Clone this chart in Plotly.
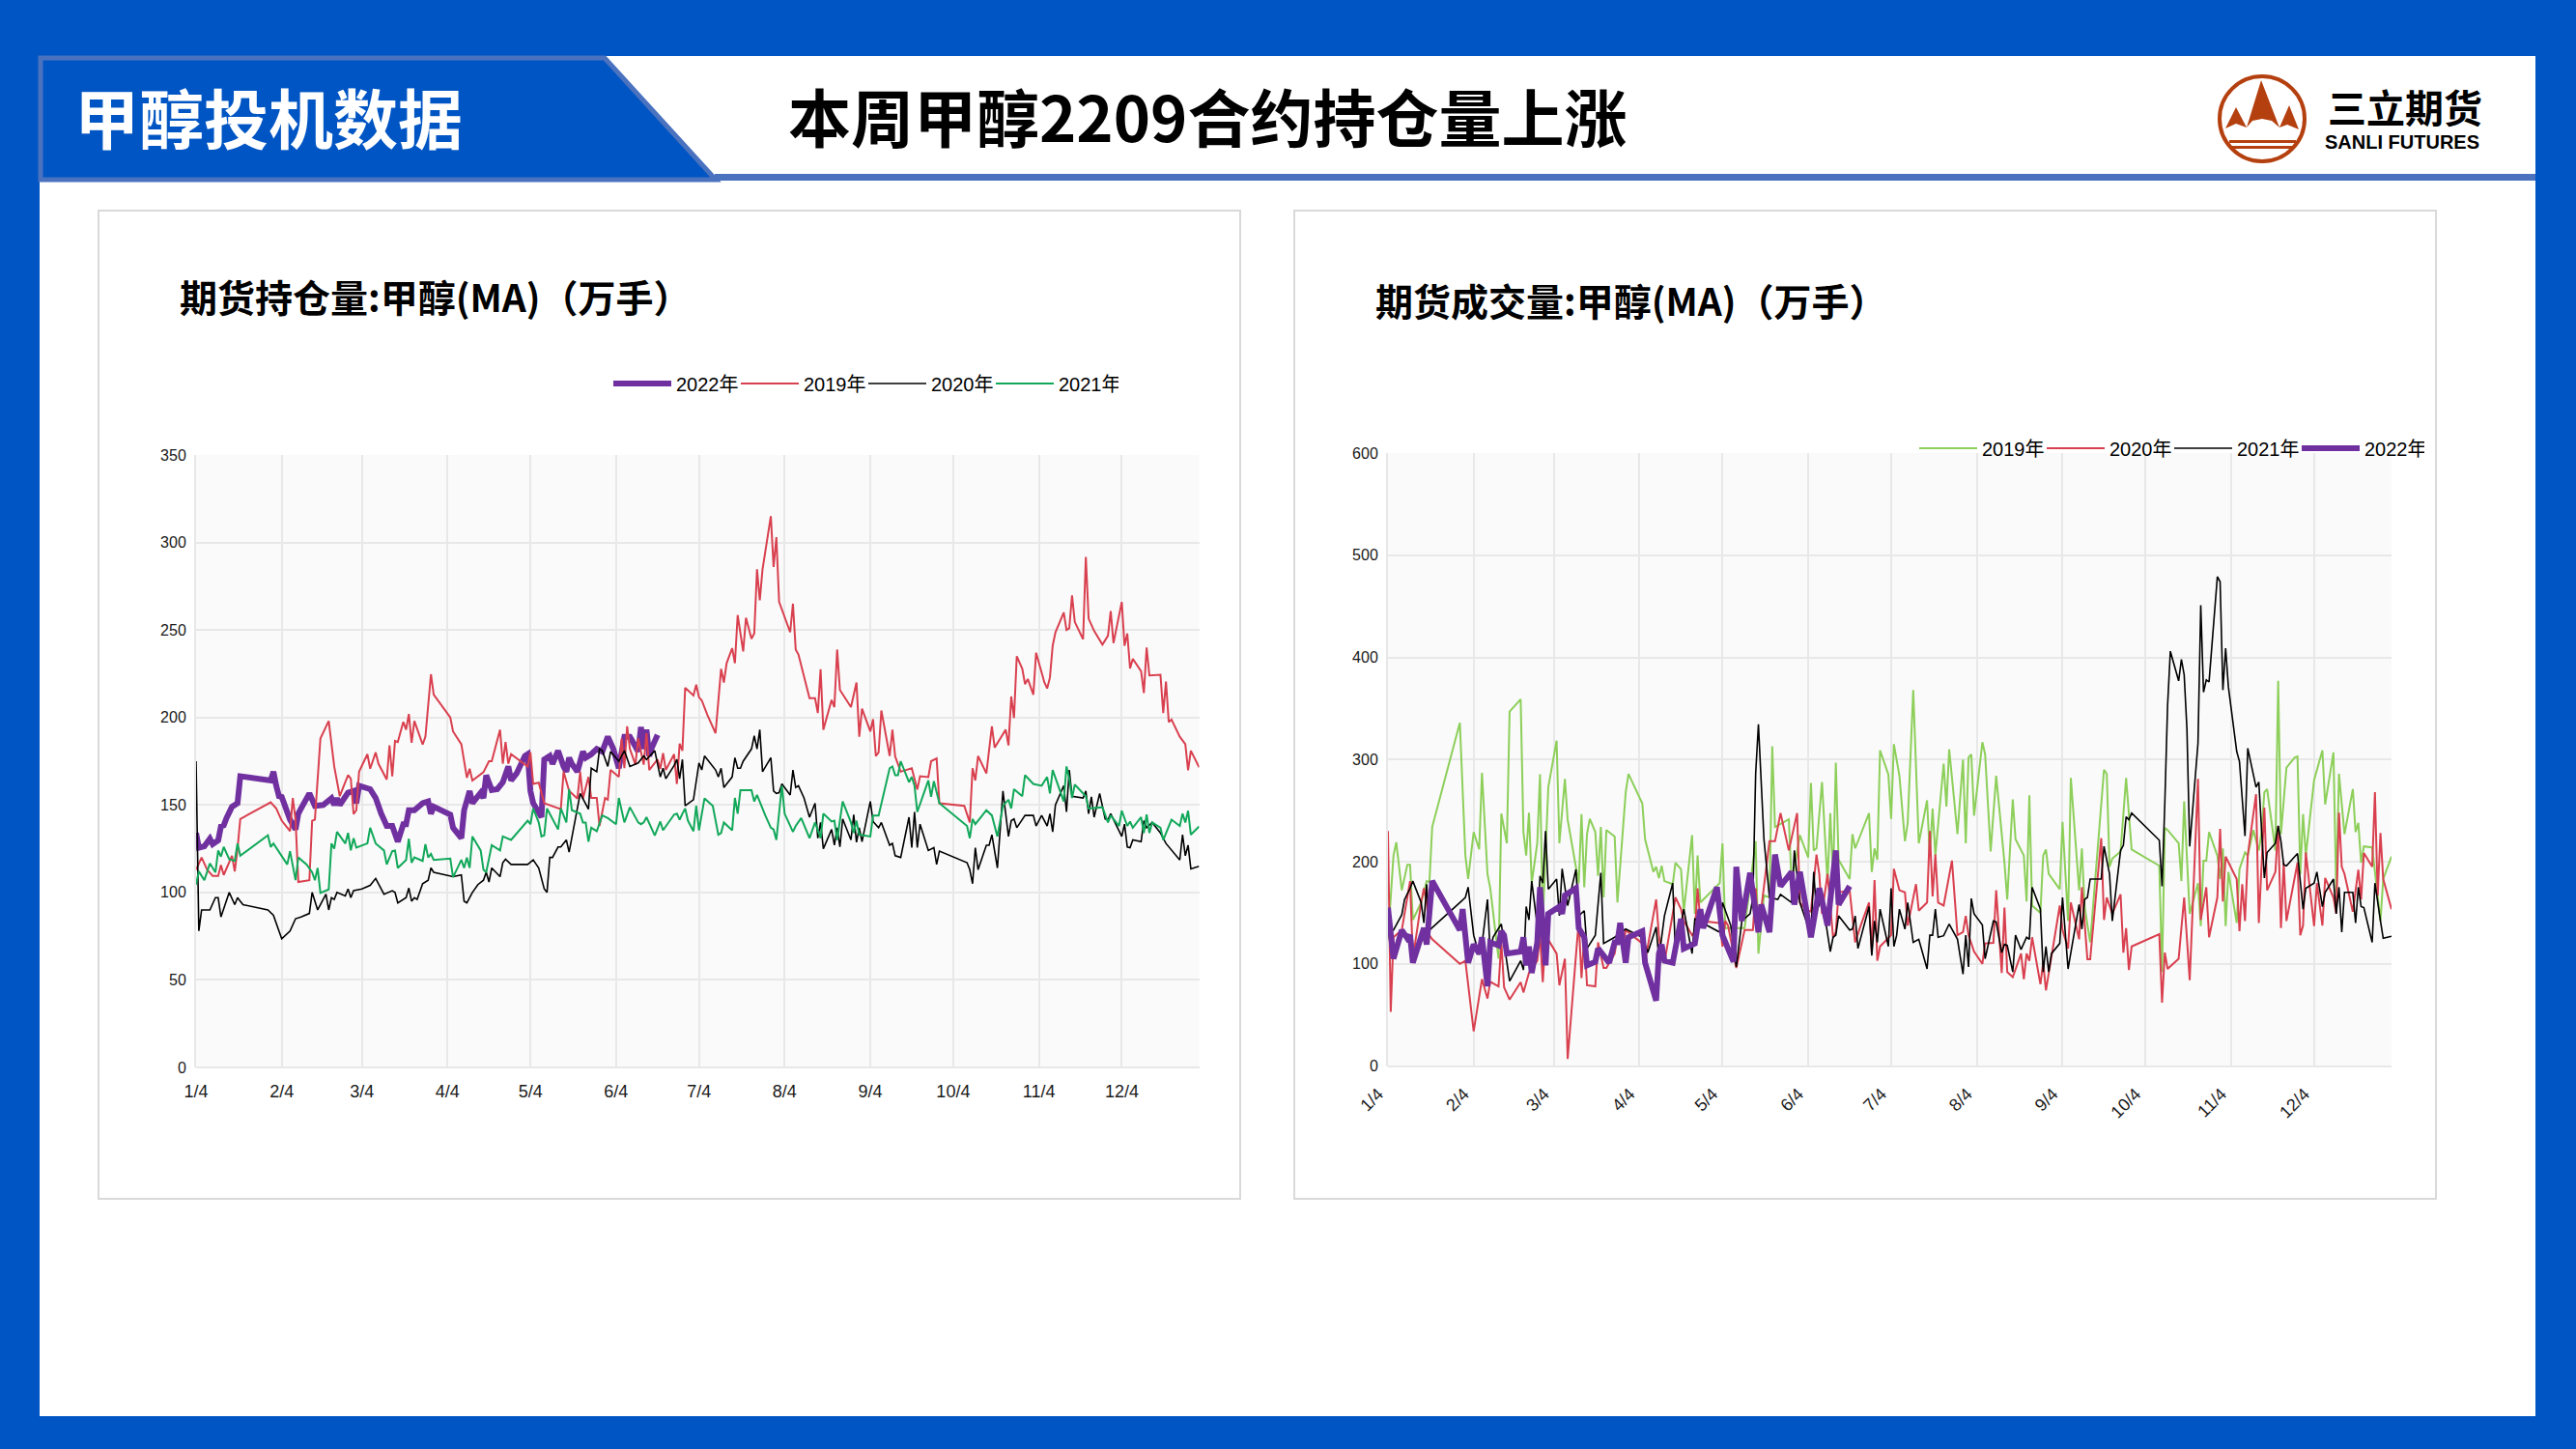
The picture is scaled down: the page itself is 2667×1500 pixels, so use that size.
import pandas as pd
import plotly.graph_objects as go

W, H = 2667, 1500
BASE = pd.Timestamp("2020-01-04")  # leap calendar used by the shared seasonal axis

month_ticks = ["2020-01-04","2020-02-04","2020-03-04","2020-04-04","2020-05-04","2020-06-04",
               "2020-07-04","2020-08-04","2020-09-04","2020-10-04","2020-11-04","2020-12-04"]
month_labels = ["1/4","2/4","3/4","4/4","5/4","6/4","7/4","8/4","9/4","10/4","11/4","12/4"]

# (days since 1/4, value) -- open interest, 10k lots
oi_2022 = [(0,134),(1,125.6),(3,126.4),(5,130.7),(6,127.6),(8,129.8),(9,137.7),(10,138.3),(11,142.5),(13,149),(15,151),(16,166.4),(27,164),(28,169),(29,161),(30,155),(31,154.6),(32,149.5),(34,141.6),(36,136),(37,145),(38,148),(41,156.6),(43,149.5),(46,150),(49,153.8),(50,150),(51,153.8),(52,150),(55,157),(57,158),(58,151),(59,161),(63,159),(65,154),(67,145),(69,138),(71,138),(73,129),(75,139),(76,139),(77,147),(79,147),(82,151),(84,152),(85,145),(86,149),(92,144.5),(93,137),(96,131),(97,147),(99,158),(100,151),(103,157),(104,154),(105,167),(107,158.5),(109,159),(111,163),(113,172),(114,164),(116,168),(119,178),(120,179),(121,158),(122,151),(125,143),(126,176),(128,178),(129,173.5),(131,181),(133,172),(134,169),(135,177),(136,173.5),(138,169),(140,180.5),(141,177),(143,179),(145,182),(147,180.5),(149,189),(151,182),(153,171),(154,179),(155,189),(157,189),(159,183),(160,180.5),(161,194.6),(162,182),(163,193),(164,178),(165,183),(167,190)]

oi_2019 = [(0,113),(2,120),(4,113),(6,109.5),(8,109.5),(9,115.6),(10,110),(13,121),(14,112),(15,125),(16,142),(27,151.5),(29,148),(31,141),(34,135),(35,154),(36,141.6),(37,106),(41,107),(42,141),(43,141.6),(45,188),(48,198),(50,172),(52,155),(55,167),(56,165),(57,144.8),(58,147),(59,169),(62,179),(63,170.7),(65,180),(66,173.6),(69,164.5),(70,184),(71,166.4),(72,186.6),(73,186),(75,197.5),(76,193),(77,202),(78,185.5),(79,198),(82,184.5),(83,189),(85,224.7),(86,213),(92,200),(93,192),(96,184.7),(98,165.5),(99,170.7),(100,164),(104,168.7),(106,175),(107,175),(110,193),(111,173.6),(112,186),(113,173.6),(114,179),(120,172),(121,180),(122,162),(124,162.7),(126,151),(128,150),(132,147.6),(133,169),(135,158),(138,153.6),(139,169),(140,153.6),(142,166),(143,154),(145,154),(146,138),(148,154),(149,153),(150,170),(153,166),(154,188),(155,171),(156,195),(157,182),(159,173),(160,188),(162,173),(163,191),(164,170),(167,176),(168,170.7),(169,179.6),(170,170),(173,179),(174,162),(175,185),(176,181),(177,217),(180,212.6),(181,218.8),(182,211.5),(183,209.8),(185,201.6),(188,191),(190,227.8),(191,220),(192,231),(194,239.6),(195,231),(196,258.5),(198,237.7),(199,257),(201,245),(202,248),(203,284.7),(204,267),(205,284.7),(208,315),(209,286),(210,303),(211,266),(215,248.7),(216,265),(217,238.8),(218,236),(222,211),(224,211),(225,202.5),(226,227.5),(227,193),(230,210),(231,205.9),(232,238.8),(233,215.7),(237,205.9),(239,220),(240,189),(241,205),(244,192),(245,199),(246,178),(247,180),(248,204),(251,178),(252,193),(253,177.7),(255,169),(259,171),(261,158.8),(262,166.4),(265,165.9),(266,175),(268,176.6),(269,151),(278,149.5),(280,140),(281,171),(282,164),(283,178),(286,168),(288,195),(289,182.8),(293,193),(294,184),(295,212),(296,199.7),(297,235),(299,227.8),(300,219),(301,222),(303,213),(304,237),(307,220),(308,216.6),(309,222.8),(310,241),(311,248.7),(314,260),(315,250),(316,251),(317,269.8),(318,254.6),(321,244.7),(322,291.7),(323,256.5),(325,249.5),(328,241.6),(330,246.7),(331,260.8),(332,242.5),(335,266),(336,241),(337,248),(338,228),(339,233.5),(342,226.4),(343,214),(344,240),(345,224),(349,224.4),(350,202.5),(351,220.5),(352,197.4),(353,198.8),(356,189),(358,184.7),(359,169.8),(360,181),(363,171.5)]

oi_2020 = [(0,175),(1,78),(2,90),(5,90),(7,97),(8,97),(9,86),(12,100),(14,93),(15,97),(16,95),(17,93),(26,90),(28,87),(30,78),(31,73.5),(34,78),(36,85),(38,86),(41,88),(42,100),(43,95),(44,90),(47,99),(48,90),(49,97),(50,96),(51,100),(54,98),(55,102),(56,97),(57,101),(60,102),(63,104),(65,108),(68,99),(71,101),(72,100),(73,94),(76,97),(77,102.5),(78,95),(79,97),(80,96),(82,105),(84,107),(85,114),(86,111.5),(93,109),(96,110),(97,95),(98,94),(100,100),(102,104.5),(104,107),(105,111.5),(106,106),(107,114),(110,109),(111,117),(112,119),(114,116),(120,116),(122,118.6),(124,114),(126,102),(127,100),(128,120),(129,120),(131,126),(132,126),(134,130),(135,123),(139,156.6),(141,151),(142,147.6),(143,171),(145,169),(146,182),(147,181),(149,172),(150,180.5),(153,175),(155,181),(157,172),(160,174),(162,178),(163,176),(166,181),(168,166),(169,171),(170,165),(173,172.6),(174,176),(175,165),(176,176),(177,149.5),(180,153),(182,174),(183,170),(184,178),(188,170),(189,166),(190,171),(191,160),(194,166),(195,177),(196,171),(197,171),(198,175),(201,182),(202,189.5),(203,182),(204,193),(205,169),(208,177),(209,158),(210,156.6),(211,157),(212,162),(215,155.7),(216,170),(217,160),(218,161),(220,154),(222,143),(224,151),(225,131),(226,140),(227,125),(230,136),(231,127),(232,137),(233,126),(234,142),(237,130),(238,144.5),(239,128.7),(240,137),(241,129),(244,152),(245,140.5),(247,137),(248,140),(251,127),(252,128),(253,121),(255,120),(258,143),(259,125.6),(260,146),(261,125.6),(262,139),(265,124),(267,125.6),(268,116),(269,123.6),(279,117),(280,113),(281,105),(282,125.6),(283,113),(286,127),(287,127),(288,133),(290,114),(292,158),(294,132),(295,141),(296,142),(297,137),(300,144),(303,144),(304,138),(306,144),(308,138),(309,145),(310,134.6),(311,150),(314,161),(315,146),(316,170),(317,155),(321,154),(322,158),(323,145),(324,154.6),(325,143),(327,156.6),(329,142),(330,141.6),(331,145),(335,132),(336,139),(337,126),(338,125.6),(339,130),(342,129),(343,141),(344,137),(346,140),(349,134),(351,128),(356,118.6),(357,133),(358,121),(359,127),(360,113.5),(363,115)]

oi_2021 = [(0,104.5),(1,112),(3,107),(5,116.6),(7,111.5),(8,124),(9,120.5),(10,126),(12,119),(14,118),(15,128),(16,121),(26,132.6),(27,126),(28,128),(30,123),(33,116),(34,123.6),(36,107),(37,120),(40,116),(42,111.5),(43,107),(44,114),(45,99.7),(48,101.7),(49,128),(50,125),(51,134.6),(54,128),(55,134),(56,124),(57,131),(58,125.6),(62,128),(63,137),(65,128),(68,124),(69,116),(71,123.6),(72,124),(73,114),(76,118.6),(77,130.7),(78,117),(79,120),(82,118),(83,127.6),(84,120),(85,122),(86,118.6),(92,119.4),(93,108.7),(96,118.6),(97,114),(98,120),(99,114),(100,132),(103,124),(104,113),(105,111.5),(107,127),(110,124),(111,132),(114,130),(120,141),(121,139),(122,148),(124,140),(125,132),(126,132.6),(127,148),(131,136),(132,148),(134,140),(135,159),(136,147),(139,145),(140,140),(141,140),(142,129),(143,137),(145,135),(147,144),(149,142.5),(152,139),(153,154),(155,140),(157,148.7),(160,140),(161,139),(162,140),(163,143),(166,132.6),(168,140.5),(169,135.5),(173,144.5),(174,145),(175,141.6),(176,145),(177,148),(178,141),(180,135),(181,149.5),(182,135.5),(184,153.8),(187,149.5),(189,133),(190,134),(191,140),(194,135.5),(195,154),(196,145),(197,158.5),(201,158.5),(202,152),(203,155.7),(206,144),(208,137),(209,136),(210,130),(212,161),(213,145),(216,134.6),(217,138),(219,142.5),(222,131),(224,140),(226,131),(227,145),(230,140.5),(231,141),(232,130),(234,152),(237,140),(238,134),(239,141),(240,133),(244,132),(245,144),(247,144),(251,171),(252,172),(253,167),(254,167),(255,175),(258,163),(259,166),(260,161),(261,146),(265,164),(266,154.6),(267,163.6),(269,151),(279,138),(280,131),(281,142),(282,139),(286,147),(288,144),(290,132),(292,149.5),(294,153),(295,148),(296,159),(299,155),(300,167),(303,162),(306,161),(308,166),(309,156.6),(310,170),(314,152),(315,172),(316,165),(317,154),(318,161.6),(322,155),(323,148),(328,148.7),(330,140),(331,144),(334,138),(335,146.7),(337,138),(338,140.5),(339,137),(342,143),(343,134),(344,144.5),(345,134),(346,140),(349,137),(350,130),(353,141.6),(356,138),(357,145),(358,140),(359,146.7),(360,133),(363,137.7)]

# (days since 1/4, value) -- traded volume, 10k lots
vol_2019 = [(0,124),(2,206),(3,219),(5,172),(7,197),(8,197),(9,143),(12,160),(14,181),(15,180),(16,234),(26,336),(28,206),(29,183),(31,229),(33,212),(34,287),(36,188),(37,174),(40,105),(41,247),(43,218),(44,347),(48,359),(49,229),(50,206),(51,248),(52,179),(54,218),(55,285.5),(56,142),(58,273),(61,318.5),(62,218),(64,281),(65,241),(69,179),(70,246.5),(71,175),(72,227),(73,242),(75,229),(76,186),(77,234),(78,165),(79,231),(82,224.6),(83,160),(86,268),(87,286),(92,257),(93,222),(96,190),(97,195),(98,184),(99,196),(100,181),(103,178),(104,199),(106,192.5),(107,151),(110,226),(111,149),(112,206),(113,160),(120,179),(121,218),(122,135),(129,135),(133,220),(134,110),(136,167),(138,165),(139,313),(140,234),(145,241.5),(146,179),(149,226),(152,204),(153,277),(154,211),(155,213),(157,278),(159,179),(160,247.5),(161,183),(162,297),(163,202),(167,183),(168,227),(169,213),(174,247.5),(175,190),(176,213),(177,202),(178,309),(181,285.5),(182,242),(183,315),(185,284),(187,220),(188,238),(190,368),(192,218),(195,260),(196,206),(197,252),(198,206),(201,296),(202,254),(203,310),(206,227),(208,300),(209,218),(210,302),(211,305),(212,245),(215,317),(216,305),(218,210),(220,284),(223,199),(224,163),(226,261),(227,222),(230,206),(231,161),(232,265),(233,157),(236,150),(237,206),(238,212),(239,188),(243,173),(244,239),(246,142),(247,282),(250,172),(251,213),(252,156),(254,121),(259,290),(260,286),(261,195),(262,203),(265,210),(267,282),(269,212),(279,196),(280,92),(281,233),(282,231),(286,218),(287,181),(288,259),(290,149),(293,179),(294,137),(295,201),(296,201),(297,229),(300,206),(301,183),(302,213),(303,137),(304,190),(307,140),(308,192.5),(310,209),(311,206),(313,231),(315,211),(316,229),(317,268),(318,271),(321,211),(322,377),(323,227),(325,292),(328,302),(329,303),(330,188),(331,246.5),(332,206),(335,280),(338,309),(339,256),(342,307),(343,170),(344,286),(346,227),(349,271),(350,229),(351,238),(352,199),(353,215),(356,214),(357,188),(359,142),(360,183),(363,205)]

vol_2020 = [(0,230),(1,53),(2,126),(5,133),(8,181),(9,105),(12,160),(13,174),(14,160),(15,128),(16,124),(26,100),(28,103),(31,34),(34,85),(36,66),(37,82.5),(40,78),(41,121),(42,77),(44,65),(48,82),(49,72),(51,91),(54,103),(55,128),(56,82),(57,128),(61,110),(62,79),(64,105),(65,7),(69,142),(70,86),(71,128),(72,79),(75,78),(76,121),(78,96),(79,96),(82,110),(83,128),(84,133),(85,117),(86,133),(92,120),(93,102),(97,163),(98,128),(99,105),(100,101),(103,149),(104,165),(106,153.5),(107,142),(110,128),(111,131),(112,174),(113,142),(120,140),(121,117),(122,142),(123,137.5),(126,96),(129,133),(132,133),(133,174),(134,131),(138,220),(140,220),(142,247.5),(145,211),(148,247.5),(149,160),(151,153.5),(153,151),(155,207),(156,188),(157,149),(159,188),(161,126),(162,131),(163,170),(167,172),(169,121),(171,137.5),(174,160),(175,112),(176,182),(177,103),(178,117),(182,128),(183,193),(185,172),(187,170),(188,137.5),(191,178),(192,152),(195,160),(196,230),(197,166),(198,207),(199,160),(201,157),(204,201),(206,128),(208,131),(209,147),(210,128),(212,112),(215,100),(216,120),(219,120.5),(220,172),(222,91),(223,155),(224,92),(226,87),(229,110),(230,85),(231,110),(232,103),(233,126),(236,80),(237,101),(238,74),(243,157),(244,133),(246,115),(247,160),(250,124),(251,175),(253,104.5),(254,104.5),(258,223),(259,143),(260,165),(262,149),(265,168),(266,111),(267,135),(268,94),(269,117),(279,129),(280,62),(281,111),(282,95),(286,105),(288,165),(290,84),(293,281),(294,143),(296,175),(297,126),(300,165),(301,232),(302,161),(303,205),(307,183),(308,132),(309,178),(310,142),(311,206),(314,266),(315,140),(317,253),(318,172),(321,190),(322,235),(323,135),(324,199),(325,142),(329,199),(330,128),(331,137.5),(332,209),(335,137),(336,179),(338,137.5),(339,184),(342,165),(343,149),(344,248),(345,195),(346,188),(349,151),(351,192),(352,163),(353,208.5),(356,195),(357,268),(358,167),(359,228),(360,183),(363,153.5)]

vol_2021 = [(0,136.5),(2,133),(5,148),(6,163),(8,174),(9,181),(12,160),(13,140),(14,178),(15,133),(26,160),(28,165),(29,175),(31,128),(33,109),(34,119),(36,163),(37,110),(38,126),(41,139),(44,83),(48,103),(49,94),(50,156),(51,143),(52,181),(54,137.5),(55,186),(56,179),(57,230),(58,173),(61,183),(62,147),(63,193),(65,157),(68,192.5),(69,147),(71,152),(72,115),(75,128),(77,189),(78,120),(82,126),(83,128),(86,134),(92,126),(94,111),(97,136),(98,105),(100,147),(103,179),(104,110),(107,153.5),(110,110),(111,144),(120,131),(121,160),(124,137.5),(126,97),(128,142),(131,149),(132,165),(133,286),(134,334.5),(136,222),(138,165),(141,163),(142,168),(146,160),(147,211),(149,160),(153,128),(154,190),(155,151),(157,165),(160,112),(161,126),(162,128),(163,147),(167,133),(168,134),(169,147),(170,115),(174,156),(175,108),(176,142),(177,121),(178,153.5),(181,117),(182,174),(183,117),(184,128),(185,153.5),(187,134),(188,160),(190,121),(192,124),(195,95),(196,128),(197,128),(198,153.5),(199,126),(201,127.5),(203,139),(206,124),(208,90),(209,128),(210,97),(211,164),(212,149),(215,138),(216,105),(218,132),(219,142),(220,141),(222,111),(223,119),(224,118),(226,92),(227,128),(229,114),(231,126),(232,124),(233,175),(236,153.5),(237,92),(238,117),(239,92),(240,110),(243,120),(244,165),(246,95),(250,158),(251,134),(252,163),(253,165),(254,183),(258,183),(259,215),(261,188),(262,142),(265,211),(266,216),(267,244),(268,241),(269,247.5),(279,221),(280,176),(281,257),(282,353),(283,406),(286,377),(287,398),(288,383),(289,330),(290,215),(293,316),(294,451),(295,366),(296,378),(297,376),(300,479),(301,474),(302,368),(303,409),(304,371),(307,308),(308,298),(310,225),(311,311),(314,273),(315,278),(317,184),(318,209),(321,218),(322,235),(323,220),(324,197),(325,196),(329,208),(331,153.5),(332,174),(335,179),(336,190),(338,156),(339,170),(342,183),(343,149),(344,175),(345,131),(346,170),(349,170),(350,140),(351,175),(352,156),(353,155),(356,121),(357,179),(359,142),(360,125),(363,127)]

vol_2022 = [(0,155),(2,105),(5,133),(7,125),(8,128),(9,101),(13,135),(14,119),(16,181),(26,133),(27,153.5),(28,128),(29,101),(31,119),(33,110),(34,126),(36,78),(37,121),(40,118),(41,132),(42,128),(43,110),(48,112),(49,126),(50,98.5),(51,117),(52,91),(54,121),(55,175),(57,98.5),(58,149),(62,156),(63,149),(64,167),(68,174),(69,135),(71,126),(72,98.5),(75,102),(76,115),(80,101),(82,121),(83,121),(84,140),(86,101),(87,126),(92,132),(93,101),(97,64),(98,110),(99,119),(100,103),(103,101),(106,144),(107,115),(111,120),(113,153.5),(114,135),(119,175),(121,128),(125,102),(126,195),(128,142),(131,189),(134,131),(135,158),(138,131),(140,207),(142,176),(146,190),(147,158),(149,190),(153,126),(156,174),(159,137.5),(162,211),(163,158),(167,176)]


def series(pairs):
    return ([BASE + pd.Timedelta(days=d) for d, _ in pairs], [v for _, v in pairs])


def X(px):
    return px / W


def Y(py):
    return 1 - py / H


def rect(x0, y0, x1, y1, fill=None, line=None, lw=0, layer="below"):
    return dict(type="rect", xref="paper", yref="paper", x0=X(x0), x1=X(x1), y0=Y(y0), y1=Y(y1),
                fillcolor=fill or "rgba(0,0,0,0)", line=dict(color=line or "rgba(0,0,0,0)", width=lw), layer=layer)


def poly(points, fill, line=None, lw=0):
    d = "M " + " L ".join(f"{X(a):.5f},{Y(b):.5f}" for a, b in points) + " Z"
    return dict(type="path", xref="paper", yref="paper", path=d, fillcolor=fill,
                line=dict(color=line or "rgba(0,0,0,0)", width=lw), layer="above")


BLUE = "#0055C4"
BAND = "#4A72BF"
BROWN = "#B5400F"
C_PURPLE = "#7030A0"
C_RED = "#D9404F"
C_GREEN = "#12A85A"
C_LIME = "#8DCF5A"
C_BLACK = "#000000"

fig = go.Figure()

left_traces = [("2022年", oi_2022, C_PURPLE, 6), ("2019年", oi_2019, C_RED, 2),
               ("2020年", oi_2020, C_BLACK, 1.6), ("2021年", oi_2021, C_GREEN, 2)]
right_traces = [("2019年", vol_2019, C_LIME, 2), ("2020年", vol_2020, C_RED, 2),
                ("2021年", vol_2021, C_BLACK, 1.6), ("2022年", vol_2022, C_PURPLE, 6)]

for name, data, color, width in left_traces:
    x, y = series(data)
    fig.add_trace(go.Scatter(x=x, y=y, name=name, mode="lines", line=dict(color=color, width=width),
                             xaxis="x", yaxis="y", legend="legend"))
for name, data, color, width in right_traces:
    x, y = series(data)
    fig.add_trace(go.Scatter(x=x, y=y, name=name, mode="lines", line=dict(color=color, width=width),
                             xaxis="x2", yaxis="y2", legend="legend2"))

TICKFONT = dict(family="Liberation Sans, Noto Sans CJK SC", size=16, color="#1a1a1a")
XTICKFONT = dict(family="Liberation Sans, Noto Sans CJK SC", size=18, color="#1a1a1a")
GRID = "#E8E8E8"
RANGE = ["2020-01-04", "2021-01-01"]


def xaxis(domain, anchor, angle, standoff, shift):
    return dict(type="date", domain=domain, anchor=anchor, range=RANGE, tickmode="array",
                tickvals=month_ticks, ticktext=month_labels, tickangle=angle, tickfont=XTICKFONT,
                showgrid=True, gridcolor=GRID, gridwidth=2, showline=False, zeroline=False,
                ticks="", ticklabelstandoff=standoff, ticklabelshift=shift, fixedrange=True, automargin=False)


def yaxis(domain, anchor, top, step):
    return dict(domain=domain, anchor=anchor, range=[0, top], tickmode="linear", tick0=0, dtick=step,
                tickfont=TICKFONT, showgrid=True, gridcolor=GRID, gridwidth=2, zeroline=True,
                zerolinecolor=GRID, zerolinewidth=2, showline=True, linecolor=GRID, linewidth=2,
                ticks="", ticklabelstandoff=5, fixedrange=True, automargin=False)


shapes = [
    rect(0, 0, W, 58, fill=BLUE), rect(0, 1466, W, H, fill=BLUE),
    rect(0, 0, 41, H, fill=BLUE), rect(2625, 0, W, H, fill=BLUE),
    rect(740, 180, 2625, 187, fill=BAND),
    rect(102, 218, 1284, 1241, line="#D9D9D9", lw=2),
    rect(1340, 218, 2522, 1241, line="#D9D9D9", lw=2),
    poly([(42, 60), (626, 60), (741, 186), (42, 186)], BLUE, BAND, 5),
    # company mark
    dict(type="circle", xref="paper", yref="paper", x0=X(2298), x1=X(2386), y0=Y(167), y1=Y(79),
         fillcolor="rgba(0,0,0,0)", line=dict(color=BROWN, width=4), layer="above"),
    poly([(2304, 133), (2315, 111), (2326, 132), (2341, 83), (2360, 132), (2370, 109), (2380, 134),
          (2368, 129), (2360, 132), (2352, 125), (2342, 123), (2332, 125), (2326, 132), (2315, 128)], BROWN),
    rect(2308, 145, 2377, 148, fill=BROWN, layer="above"),
    rect(2311, 151, 2373, 154, fill=BROWN, layer="above"),
]

annotations = []


def text(px, py, s, size, color="#000000", family="Noto Sans CJK SC", bold=True, xanchor="left"):
    annotations.append(dict(xref="paper", yref="paper", x=X(px), y=Y(py), text=f"<b>{s}</b>" if bold else s,
                            showarrow=False, xanchor=xanchor, yanchor="middle",
                            font=dict(family=family, size=size, color=color)))


text(75, 119, "甲醇投机数据", 67, color="#FFFFFF")
text(814, 119, "本周甲醇2209合约持仓量上涨", 65)
text(2408, 110, "三立期货", 40)
text(2405, 147, "SANLI FUTURES", 20, family="Liberation Sans")
text(184, 306, "期货持仓量:甲醇(MA)（万手）", 39)
text(1422, 310, "期货成交量:甲醇(MA)（万手）", 39)

LEGFONT = dict(family="Liberation Sans, Noto Sans CJK SC", size=20, color="#000000")

fig.update_layout(
    width=W, height=H, margin=dict(l=0, r=0, t=0, b=0, pad=0), autosize=False,
    paper_bgcolor="#FFFFFF", plot_bgcolor="#FAFAFA", showlegend=True,
    xaxis=xaxis([X(203), X(1241.5)], "y", 0, 12, 0),
    yaxis=yaxis([Y(1105), Y(471)], "x", 350, 50),
    xaxis2=xaxis([X(1437), X(2476)], "y2", -45, 14, -10),
    yaxis2=yaxis([Y(1103.5), Y(469)], "x2", 600, 100),
    legend=dict(orientation="h", x=X(630), y=Y(397),
                xanchor="left", yanchor="middle", font=LEGFONT, entrywidth=57, entrywidthmode="pixels",
                itemwidth=60, bgcolor="rgba(0,0,0,0)", traceorder="normal"),
    legend2=dict(orientation="h", x=X(1982), y=Y(464),
                 xanchor="left", yanchor="middle", font=LEGFONT, entrywidth=57, entrywidthmode="pixels",
                 itemwidth=60, bgcolor="rgba(0,0,0,0)", traceorder="normal"),
    shapes=shapes, annotations=annotations,
)

fig.write_html("out.html", config={"displayModeBar": False},
               post_script="document.body.style.margin='0';document.body.style.overflow='hidden';")
